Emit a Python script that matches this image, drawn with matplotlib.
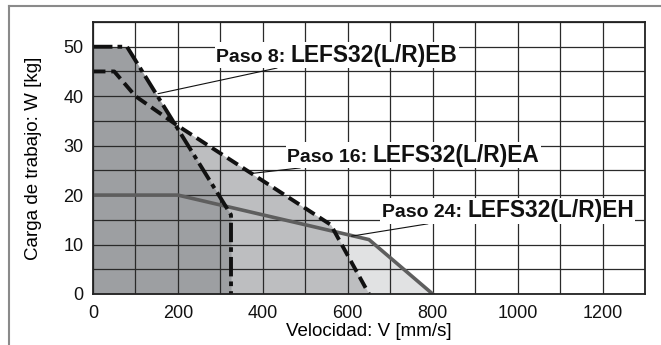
import matplotlib
matplotlib.use("Agg")
import matplotlib.pyplot as plt
from matplotlib.offsetbox import TextArea, HPacker, AnnotationBbox
from matplotlib.lines import Line2D

plt.rcParams['font.family'] = ['Liberation Sans', 'DejaVu Sans']

# Data
paso8_v = [0, 80, 325, 325]
paso8_w = [50, 50, 16, 0]
paso16_v = [0, 50, 100, 200, 560, 650]
paso16_w = [45, 45, 40, 34, 14, 0]
paso24_v = [0, 200, 650, 800]
paso24_w = [20, 20, 11, 0]

labels = ["Paso 8: ", "Paso 16: ", "Paso 24: "]
models = ["LEFS32(L/R)EB", "LEFS32(L/R)EA", "LEFS32(L/R)EH"]
leader_xy = [(153, 40.5), (376, 24.4), (609, 11.7)]
box_xy = [(290, 48.3), (458, 28.1), (680, 16.8)]

xticks = [0, 200, 400, 600, 800, 1000, 1200]
yticks = [0, 10, 20, 30, 40, 50]

W, H = 661, 345
fig = plt.figure(figsize=(W / 100, H / 100), dpi=100)
ax = fig.add_axes([93 / W, 1 - 294 / H, (645 - 93) / W, (294 - 22) / H])

ax.fill_between(paso24_v, paso24_w, 0, color='#e1e2e3', lw=0, zorder=1)
ax.fill_between(paso16_v, paso16_w, 0, color='#bdbec0', lw=0, zorder=1.1)
ax.fill_between(paso8_v, paso8_w, 0, color='#9d9fa2', lw=0, zorder=1.2)

ax.set_xlim(0, 1300)
ax.set_ylim(0, 55)
ax.set_xticks(range(0, 1301, 100))
ax.set_yticks(range(0, 56, 5))
ax.set_xticklabels([str(v) if v in xticks else '' for v in range(0, 1301, 100)])
ax.set_yticklabels([str(v) if v in yticks else '' for v in range(0, 56, 5)])
ax.grid(True, color='#2a2a2a', lw=0.9, zorder=2)
ax.set_axisbelow(False)
ax.tick_params(axis='x', length=0, labelsize=13, colors='#111111', pad=8)
ax.tick_params(axis='y', length=0, labelsize=13, colors='#111111', pad=7)
for s in ax.spines.values():
    s.set_linewidth(1.3)
    s.set_color('#222222')
    s.set_zorder(5)

ax.plot(paso24_v, paso24_w, color='#5e5e5e', lw=2.6, zorder=3, solid_joinstyle='miter')
ax.plot(paso16_v, paso16_w, color='#111111', lw=2.8, zorder=3.1, dashes=(3.2, 1.5))
ax.plot(paso8_v, paso8_w, color='#111111', lw=2.8, zorder=3.2, dashes=(5, 1.3, 1.2, 1.3))

ax.set_xlabel("Velocidad: V [mm/s]", fontsize=13.5, labelpad=1)
ax.set_ylabel("Carga de trabajo: W [kg]", fontsize=13.5, labelpad=15)

for lab, mod, xy, bxy in zip(labels, models, leader_xy, box_xy):
    t1 = TextArea(lab, textprops=dict(fontsize=14, fontweight='bold', color='#111111'))
    t2 = TextArea(mod, textprops=dict(fontsize=16.4, fontweight='bold', color='#111111'))
    pack = HPacker(children=[t1, t2], align='baseline', pad=0, sep=0)
    ab = AnnotationBbox(pack, xy, xybox=bxy, xycoords='data', boxcoords='data',
                        box_alignment=(0, 0.5), pad=0.1,
                        bboxprops=dict(facecolor='white', edgecolor='none'),
                        arrowprops=dict(arrowstyle='-', color='#111111', lw=0.8,
                                        shrinkA=0, shrinkB=0),
                        zorder=6, annotation_clip=False)
    ax.add_artist(ab)

fig.add_artist(Line2D([9 / W, 9 / W], [0, 1 - 6 / H], transform=fig.transFigure,
                      color='#8a8a8a', lw=1.5))
fig.add_artist(Line2D([9 / W, 1], [1 - 6 / H, 1 - 6 / H], transform=fig.transFigure,
                      color='#8a8a8a', lw=1.5))

fig.savefig("out.png", dpi=100)
